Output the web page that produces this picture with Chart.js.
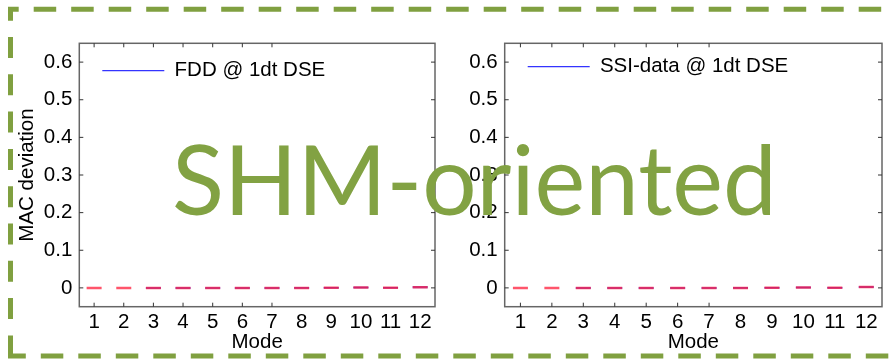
<!DOCTYPE html>
<html>
<head>
<meta charset="utf-8">
<script src="https://cdn.jsdelivr.net/npm/chart.js@4.4.1/dist/chart.umd.min.js"></script>
<style>
  html, body { margin: 0; padding: 0; background: #fff; }
  #wrap { position: relative; width: 892px; height: 359px; overflow: hidden; }
  #cFdd { position: absolute; left: 0; top: 0; }
  #cSsi { position: absolute; left: 445px; top: 0; }
  #border { position: absolute; left: 0; top: 0; }
  #banner { position: absolute; left: 172px; top: 130px; font-family: Lato, "Open Sans", sans-serif; font-size: 96px; line-height: 1; color: #82a243; white-space: nowrap; }
</style>
</head>
<body>
<div id="wrap">
  <canvas id="cFdd" width="445" height="359"></canvas>
  <canvas id="cSsi" width="447" height="359"></canvas>
  <svg id="border" width="892" height="359">
    <g stroke="#80a040" stroke-width="5" fill="none">
      <line x1="8" y1="9.3" x2="892" y2="9.3" stroke-dasharray="22.5 15" stroke-dashoffset="11.8"/>
      <line x1="10.5" y1="7" x2="10.5" y2="358.5" stroke-dasharray="21 16.3" stroke-dashoffset="7.3"/>
      <line x1="8" y1="356" x2="892" y2="356" stroke-dasharray="22.5 15" stroke-dashoffset="4.7"/>
    </g>
  </svg>
  <div id="banner">SHM-oriented</div>
</div>
<script>
/* ─── data ─── */
const modes = ['1', '2', '3', '4', '5', '6', '7', '8', '9', '10', '11', '12'];
const yTicks = [0, 0.1, 0.2, 0.3, 0.4, 0.5, 0.6];

// boxplot per mode: lower quartile, median, upper quartile (MAC deviation)
const fddQ1  = [null, null, 0, 0, 0, 0, 0, 0, 0.0001, 0.0003, 0.0004, 0.0012];
const fddMed = [0, 0, 0, 0, 0, 0, 0, 0, 0.0003, 0.0008, 0.0005, 0.0018];
const fddQ3  = [null, null, 0, 0, 0, 0, 0, 0.0002, 0.0006, 0.0016, 0.0006, 0.0028];

const ssiQ1  = [null, null, 0, 0, 0, 0, 0, 0, 0.0001, 0.0004, 0.0004, 0.0016];
const ssiMed = [0, 0, 0, 0, 0, 0, 0, 0, 0.0003, 0.0009, 0.0005, 0.0022];
const ssiQ3  = [null, null, 0, 0, 0, 0, 0, 0.0002, 0.0006, 0.0018, 0.0006, 0.0032];

const FONT = 'Liberation Sans, Arial, sans-serif';
const BLUE_LINE = 'rgba(30,30,255,0.9)';
const BLUE = 'rgba(40,40,255,0.55)';
const RED = 'rgba(255,20,50,0.72)';

// matlab-like box with inward ticks (ticks only under the first 7 modes, as in the figure)
const framePlugin = {
  id: 'frame',
  afterDatasetsDraw(chart) {
    const { ctx, chartArea: a, scales: { x, y } } = chart;
    ctx.save();
    ctx.strokeStyle = '#666';
    ctx.lineWidth = 1.5;
    ctx.strokeRect(a.left, a.top, a.right - a.left, a.bottom - a.top);
    ctx.strokeStyle = '#333';
    ctx.lineWidth = 1;
    ctx.beginPath();
    y.ticks.forEach(t => {
      const p = y.getPixelForValue(t.value);
      ctx.moveTo(a.left, p); ctx.lineTo(a.left + 4, p);
      ctx.moveTo(a.right, p); ctx.lineTo(a.right - 4, p);
    });
    modes.slice(0, 7).forEach((m, i) => {
      const p = x.getPixelForValue(i);
      ctx.moveTo(p, a.bottom); ctx.lineTo(p, a.bottom - 4);
      ctx.moveTo(p, a.top); ctx.lineTo(p, a.top + 4);
    });
    ctx.stroke();
    ctx.restore();
  }
};

// legend sits inside the axes box, near its top-left corner
const legendShift = {
  id: 'legendShift',
  afterLayout(chart, args, opts) {
    if (chart.legend) chart.legend.top = chart.chartArea.top + (opts.dy || 0);
  }
};

function markSet(label, data, color, width, order) {
  return {
    label, data, type: 'line', showLine: false, order,
    pointStyle: 'line', pointRadius: 7.5, pointHoverRadius: 7.5,
    borderColor: color, backgroundColor: color, borderWidth: 1.3,
    pointBorderColor: color, pointBorderWidth: width
  };
}

function makeChart(id, label, q1, med, q3, o) {
  return new Chart(document.getElementById(id), {
    type: 'line',
    data: {
      labels: modes,
      datasets: [
        markSet(label, q3, BLUE, 1.5, 1),
        markSet('q1', q1, BLUE, 1.5, 1),
        markSet('median', med, RED, 2.5, 0)
      ]
    },
    options: {
      responsive: false,
      animation: false,
      layout: { padding: { top: 43.3, right: o.padRight, bottom: 0, left: 0 } },
      plugins: {
        legend: {
          position: 'chartArea', align: 'start',
          labels: {
            usePointStyle: true, pointStyleWidth: 62, padding: 23,
            color: '#000', font: { family: FONT, size: 20.5 },
            filter: item => {
              if (item.text !== label) return false;
              item.strokeStyle = BLUE_LINE;
              item.lineWidth = 1.3;
              return true;
            }
          }
        },
        legendShift: { dy: o.legendDy },
        tooltip: { enabled: false }
      },
      scales: {
        x: {
          type: 'category', offset: true,
          grid: { display: false, drawTicks: false }, border: { display: false },
          ticks: { color: '#000', padding: 3, maxRotation: 0, autoSkip: false, font: { family: FONT, size: 20.5 } },
          title: { display: true, text: 'Mode', color: '#000', font: { family: FONT, size: 20.5 }, padding: { top: 0, bottom: 4 } },
          afterFit(s) { s.height = 52.3; }
        },
        y: {
          min: -0.05, max: 0.65,
          grid: { display: false, drawTicks: false }, border: { display: false },
          afterBuildTicks(s) { s.ticks = yTicks.map(v => ({ value: v })); },
          ticks: { color: '#000', padding: 7, font: { family: FONT, size: 20.5 }, callback: v => v === 0 ? '0' : v.toFixed(1) },
          title: { display: o.yTitle, text: 'MAC deviation', color: '#000', font: { family: FONT, size: 20.5 }, padding: { top: 15, bottom: 0 } },
          afterFit(s) { s.width = o.yWidth; }
        }
      }
    },
    plugins: [framePlugin, legendShift]
  });
}

makeChart('cFdd', 'FDD @ 1dt DSE', fddQ1, fddMed, fddQ3, { yWidth: 79.3, padRight: 5.7, yTitle: true, legendDy: -6 });
makeChart('cSsi', 'SSI-data @ 1dt DSE', ssiQ1, ssiMed, ssiQ3, { yWidth: 59.7, padRight: 8.3, yTitle: false, legendDy: -10 });
</script>
</body>
</html>
